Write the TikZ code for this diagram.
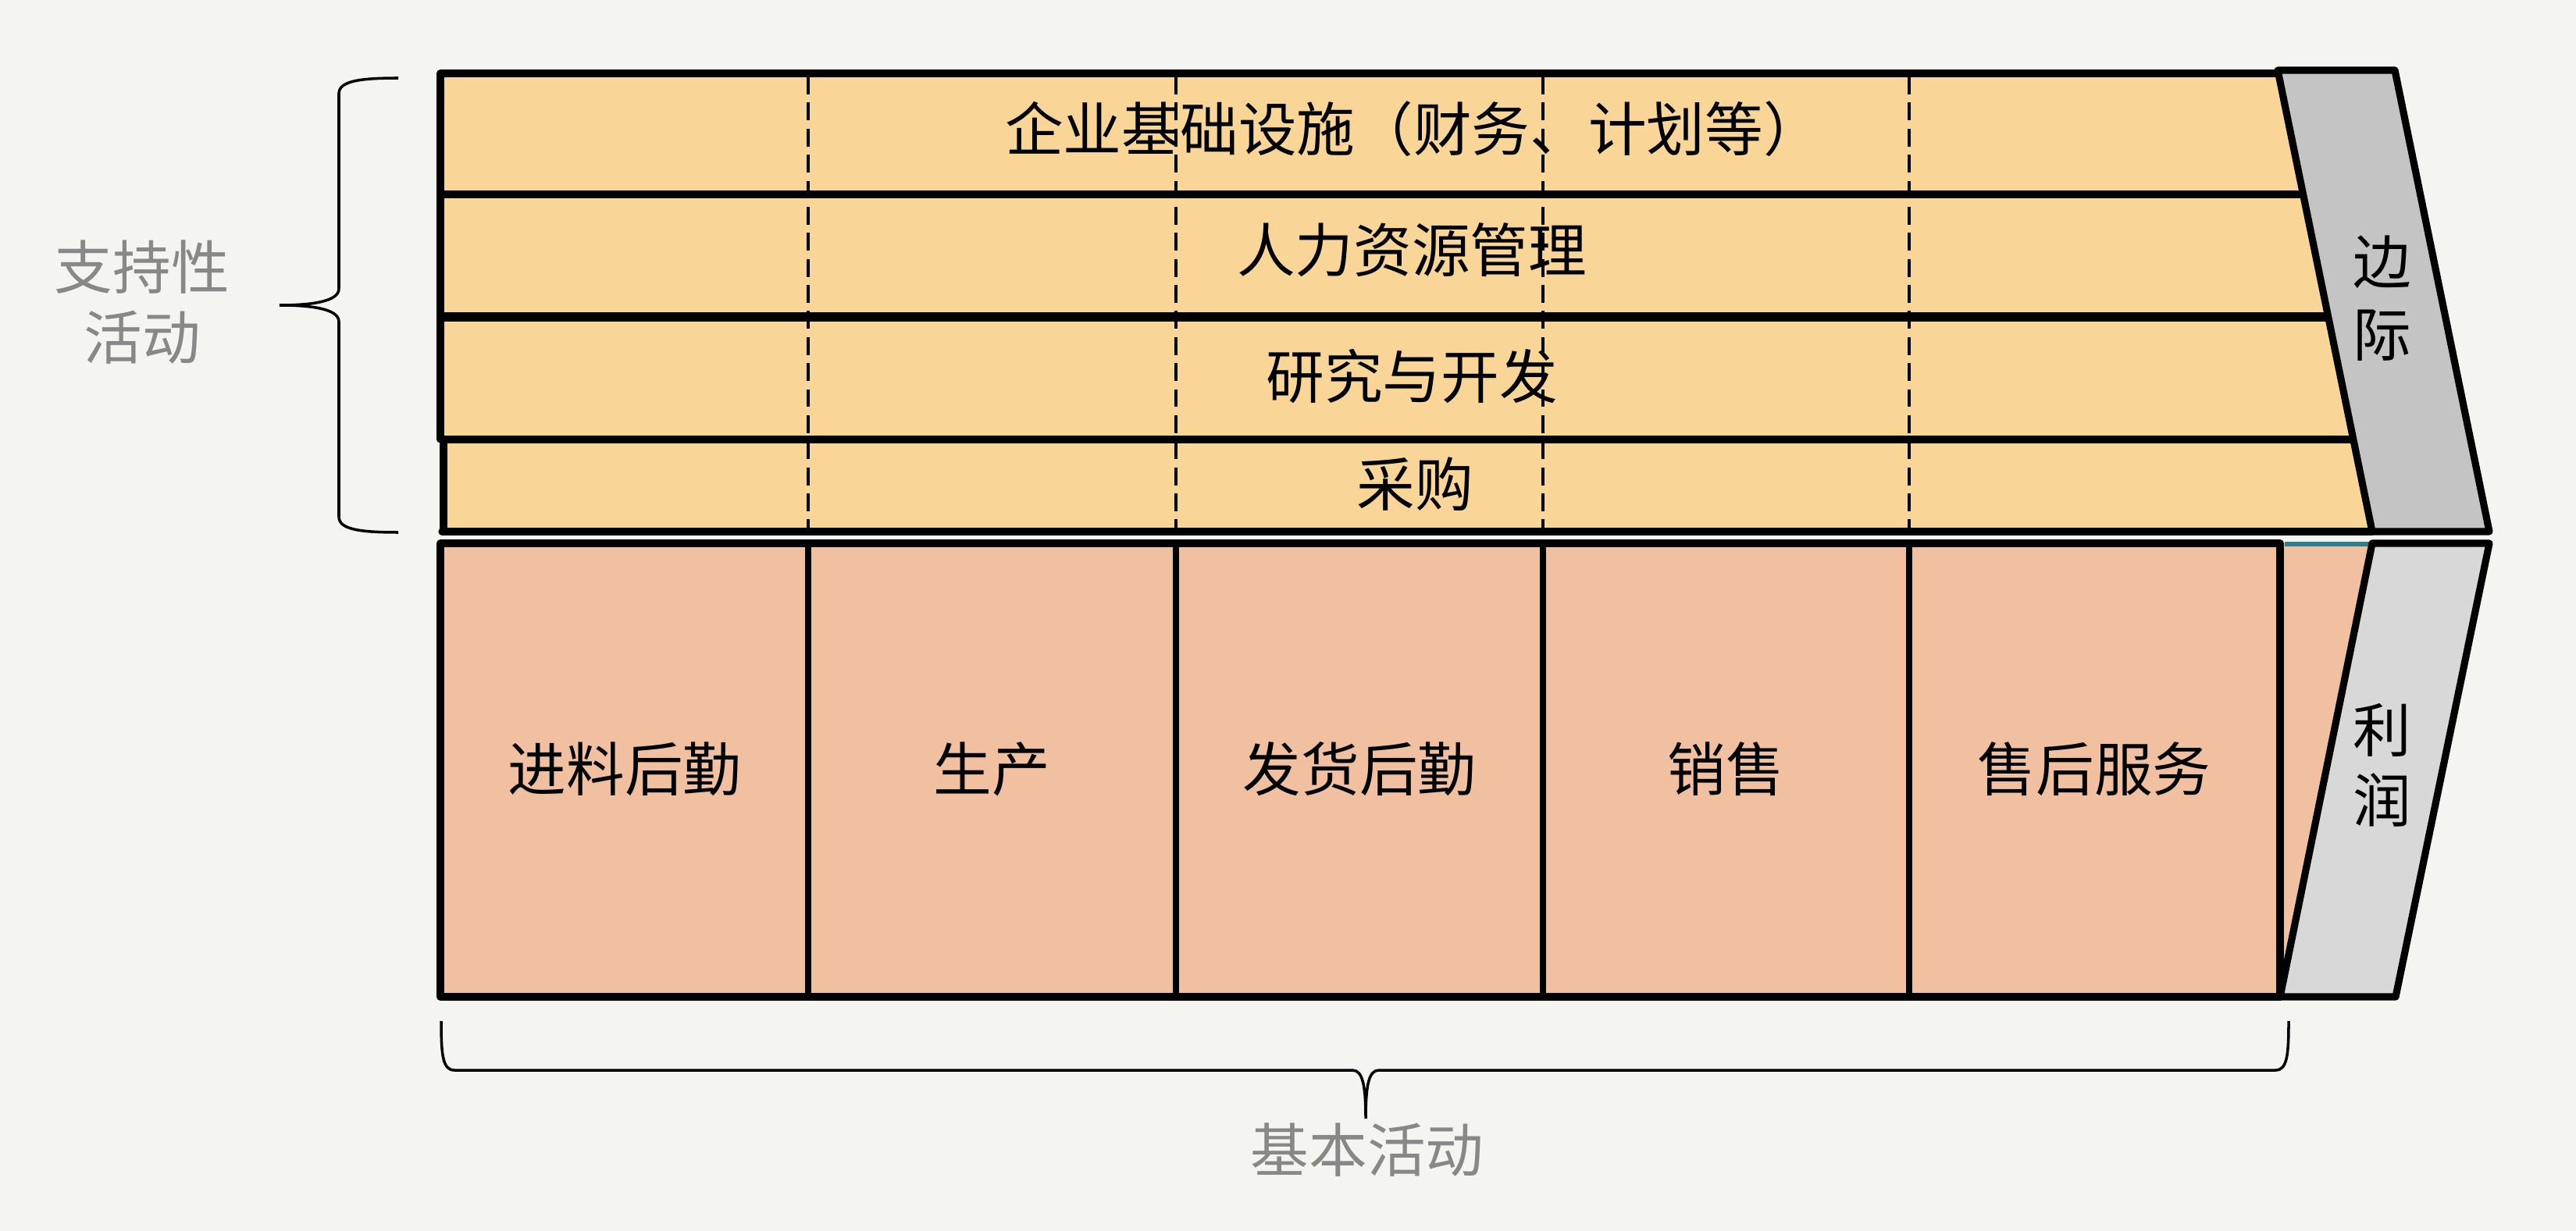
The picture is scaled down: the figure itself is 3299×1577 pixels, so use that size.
\documentclass[tikz,border=0pt]{standalone}
\usepackage{fontspec}
\newfontfamily\cjk{Noto Sans CJK SC}
\definecolor{bgc}{RGB}{244,245,240}
\definecolor{supfill}{RGB}{249,213,152}
\definecolor{prifill}{RGB}{241,192,160}
\definecolor{grayA}{RGB}{196,196,196}
\definecolor{grayB}{RGB}{216,216,216}
\definecolor{labgray}{RGB}{136,136,136}
\definecolor{teal}{RGB}{46,125,135}
\tikzset{
  thickline/.style={line width=5.2pt, line cap=round, line join=round},
  sepline/.style={line width=5.4pt},
  colline/.style={line width=4.2pt},
  dashline/.style={line width=1.9pt, dash pattern=on 13pt off 6pt},
  bracepath/.style={line width=2pt},
  lab/.style={font=\cjk\fontsize{42.5}{51}\selectfont, inner sep=0pt, align=center},
  sidelab/.style={lab, text=labgray}
}
\begin{document}
\begin{tikzpicture}[x=0.02cm,y=-0.02cm]
\useasboundingbox[fill=bgc] (0,0) rectangle (3299,1577);
% support area fill
\fill[supfill] (564,94) -- (2917,94) -- (3038,681) -- (566,681) -- cycle;
% dashed lines
\foreach \x in {1035,1506,1976,2445}
  \draw[dashline] (\x,98) -- (\x,678);
% separators
\draw[sepline] (564,249) -- (2950,249);
\draw[line width=7.2pt] (564,406) -- (2982,406);
\draw[sepline] (566,563) -- (3014,563);
\draw[thickline] (564,94) -- (2917,94);
\draw[thickline] (566,681) -- (3038,681);
\draw[thickline] (564,94) -- (564,563);
\draw[thickline] (568,563) -- (568,681);
% margin shape
\draw[thickline, fill=grayA] (2917,90) -- (3067,90) -- (3188,681) -- (3038,681) -- cycle;
% primary area
\fill[prifill] (564,696) rectangle (2920,1277);
\fill[prifill] (2920,696) -- (3038,696) -- (2920,1277) -- cycle;
\foreach \x in {1035,1506,1976,2445}
  \draw[colline] (\x,696) -- (\x,1277);
\draw[thickline] (2920,1277) -- (564,1277) -- (564,696) -- (2920,696) -- cycle;
\draw[line width=3.6pt, teal] (2926,697) -- (3036,697);
% profit shape
\draw[thickline, fill=grayB] (3038,696) -- (3188,696) -- (3068,1277) -- (2920,1277) -- cycle;
% braces
\draw[bracepath] (510,100) .. controls (460,100) and (434,104) .. (434,120) -- (434,370)
  .. controls (434,386) and (400,391) .. (358,391)
  .. controls (400,391) and (434,396) .. (434,412) -- (434,662)
  .. controls (434,678) and (460,682) .. (510,682);
\draw[bracepath] (565,1308) .. controls (565,1352) and (567,1371) .. (582,1371) -- (1732,1371)
  .. controls (1745,1371) and (1749,1390) .. (1749,1433)
  .. controls (1749,1390) and (1753,1371) .. (1766,1371) -- (2914,1371)
  .. controls (2929,1371) and (2931,1352) .. (2931,1308);
% support labels
\node[lab] (infra) at (1810,165) {企业基础设施（财务、计划等）};
\node[lab] (hr) at (1808,320) {人力资源管理};
\node[lab] (rd) at (1808,482) {研究与开发};
\node[lab] (proc) at (1812,620) {采购};
% primary labels
\node[lab] (inlog) at (800,985) {进料后勤};
\node[lab] (prod) at (1270,985) {生产};
\node[lab] (outlog) at (1741,985) {发货后勤};
\node[lab] (sales) at (2210,985) {销售};
\node[lab] (service) at (2682,985) {售后服务};
% margin labels
\node[lab, font=\cjk\fontsize{42.5}{53}\selectfont] (margin) at (3051,382) {边\\际};
\node[lab] (profit) at (3051,980) {利\\润};
% side labels
\node[sidelab] (support) at (182,387) {支持性\\活动};
\node[sidelab] (primary) at (1751,1473) {基本活动};
\end{tikzpicture}
\end{document}
